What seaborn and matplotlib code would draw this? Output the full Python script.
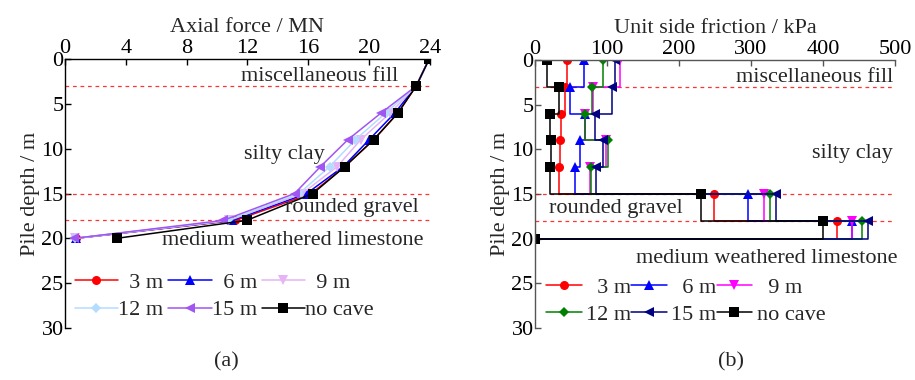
import matplotlib
matplotlib.use("Agg")
from matplotlib import pyplot as plt
import seaborn as sns
import numpy as np
import pandas as pd

# depths (m) where values were read
depth = [0, 3, 6, 9, 12, 15, 18, 20]
seg_top = [0, 3, 6, 9, 12, 15, 18]
pile_end = 20

cases = ['3 m', '6 m', '9 m', '12 m', '15 m', 'no cave']
labels = ['  3 m', '  6 m', '  9 m', '12 m', '15 m', 'no cave']
markers = ['o', '^', 'v', 'D', '<', 's']

# (a) axial force, MN
force_3 = [23.95, 23.1, 21.9, 20.3, 18.4, 16.2, 11.2, 0.7]
force_6 = [23.95, 23.1, 21.7, 20.0, 18.3, 15.9, 11.0, 0.7]
force_9 = [23.95, 23.1, 21.4, 19.45, 17.9, 15.6, 10.8, 0.65]
force_12 = [23.95, 23.1, 21.1, 19.1, 17.4, 15.4, 10.7, 0.65]
force_15 = [23.95, 23.1, 20.8, 18.6, 16.8, 15.1, 10.4, 0.6]
force_nocave = [23.95, 23.1, 21.9, 20.3, 18.4, 16.3, 11.95, 3.4]
forces = [force_3, force_6, force_9, force_12, force_15, force_nocave]
colors_a = ['#ff0000', '#0000ff', '#e6b3f7', '#b3dcff', '#a155f2', '#000000']

# (b) unit side friction per 3 m segment, kPa
fric_3 = [45, 41, 36, 35, 34, 249, 420]
fric_6 = [68, 49, 69, 62, 56, 296, 440]
fric_9 = [118, 80, 70, 99, 77, 318, 441]
fric_12 = [94, 79, 69, 101, 78, 327, 454]
fric_15 = [111, 107, 83, 95, 85, 335, 463]
fric_nocave = [17, 33, 21, 22, 21, 231, 400]
frictions = [fric_3, fric_6, fric_9, fric_12, fric_15, fric_nocave]
colors_b = ['#ff0000', '#0000ff', '#ff00ff', '#008000', '#000080', '#000000']

layers = [3, 15, 18]

sns.set_style("ticks")
plt.rcParams['font.family'] = ['Liberation Serif', 'DejaVu Serif']
plt.rcParams['font.size'] = 16
plt.rcParams['xtick.direction'] = 'in'
plt.rcParams['ytick.direction'] = 'in'

fig = plt.figure(figsize=(9.15, 3.8), dpi=100)
ax1 = fig.add_axes([0.0710, 0.1368, 0.3989, 0.7079])
ax2 = fig.add_axes([0.5847, 0.1368, 0.3934, 0.7053])


def style_axis(ax, xlim, xticks, xlabel, spine_col):
    ax.set_xlim(*xlim)
    ax.set_ylim(30, 0)
    ax.set_xticks(xticks)
    ax.set_yticks(range(0, 31, 5))
    ax.xaxis.tick_top()
    ax.xaxis.set_label_position('top')
    ax.set_xlabel(xlabel, labelpad=5, fontsize=16)
    ax.set_ylabel('Pile depth / m', labelpad=1, fontsize=16)
    for s in ['right', 'bottom']:
        ax.spines[s].set_visible(False)
    for s in ['left', 'top']:
        ax.spines[s].set_color(spine_col)
        ax.spines[s].set_linewidth(1.0)
    ax.tick_params(length=4, width=1, pad=1, color=spine_col, labelcolor='black',
                   labelsize=16)
    for d in layers:
        ax.axhline(d, color='red', ls=(0, (3, 3)), lw=0.9, alpha=0.8, zorder=1)


# ---- (a)
for vals, lab, col, mk in zip(forces, labels, colors_a, markers):
    sns.lineplot(x=vals, y=depth, sort=False, estimator=None, ax=ax1, color=col,
                 marker=mk, markersize=6.5 if mk != 'D' else 5, markeredgewidth=0,
                 lw=1.1, label=lab)
style_axis(ax1, (0, 24), range(0, 25, 4), 'Axial force / MN', 'black')
ax1.text(21.9, 1.9, 'miscellaneous fill', ha='right', va='center')
ax1.text(11.8, 10.6, 'silty clay', ha='left', va='center')
ax1.text(14.5, 16.6, 'rounded gravel', ha='left', va='center')
ax1.text(6.4, 20.2, 'medium weathered limestone', ha='left', va='center')

# ---- (b) step profiles
for vals, lab, col, mk in zip(frictions, labels, colors_b, markers):
    xs, ys = [], []
    for top, v in zip(seg_top, vals):
        bot = top + 3 if top + 3 <= pile_end else pile_end
        xs += [v, v]
        ys += [top, bot]
    xs.append(0)
    ys.append(pile_end)
    sns.lineplot(x=xs, y=ys, sort=False, estimator=None, ax=ax2, color=col,
                 marker=mk, markevery=2, markersize=6.5 if mk != 'D' else 5,
                 markeredgewidth=0, lw=1.1, label=lab)
style_axis(ax2, (0, 500), range(0, 501, 100), 'Unit side friction / kPa', '#555555')
ax2.text(497, 2.0, 'miscellaneous fill', ha='right', va='center')
ax2.text(497, 10.5, 'silty clay', ha='right', va='center')
ax2.text(19, 16.6, 'rounded gravel', ha='left', va='center')
ax2.text(503, 22.2, 'medium weathered limestone', ha='right', va='center')

leg_opts = {ax1: dict(anchor=(0.027, 0.117), hl=1.95, tp=0.0, cs=0.22),
            ax2: dict(anchor=(0.031, 0.101), hl=1.6, tp=0.2, cs=0.0)}
for ax, o in leg_opts.items():
    h, l = ax.get_legend_handles_labels()
    order = [0, 3, 1, 4, 2, 5]
    ax.legend([h[i] for i in order], [l[i] for i in order], ncol=3, frameon=False,
              loc='center left', bbox_to_anchor=o['anchor'], handlelength=o['hl'],
              handletextpad=o['tp'], columnspacing=o['cs'], labelspacing=0.3,
              borderaxespad=0, borderpad=0, fontsize=16)

fig.text(226 / 915, 1 - 362 / 380, '(a)', ha='center', va='center', fontsize=16)
fig.text(731 / 915, 1 - 362 / 380, '(b)', ha='center', va='center', fontsize=16)

fig.savefig('out.png', dpi=100)
